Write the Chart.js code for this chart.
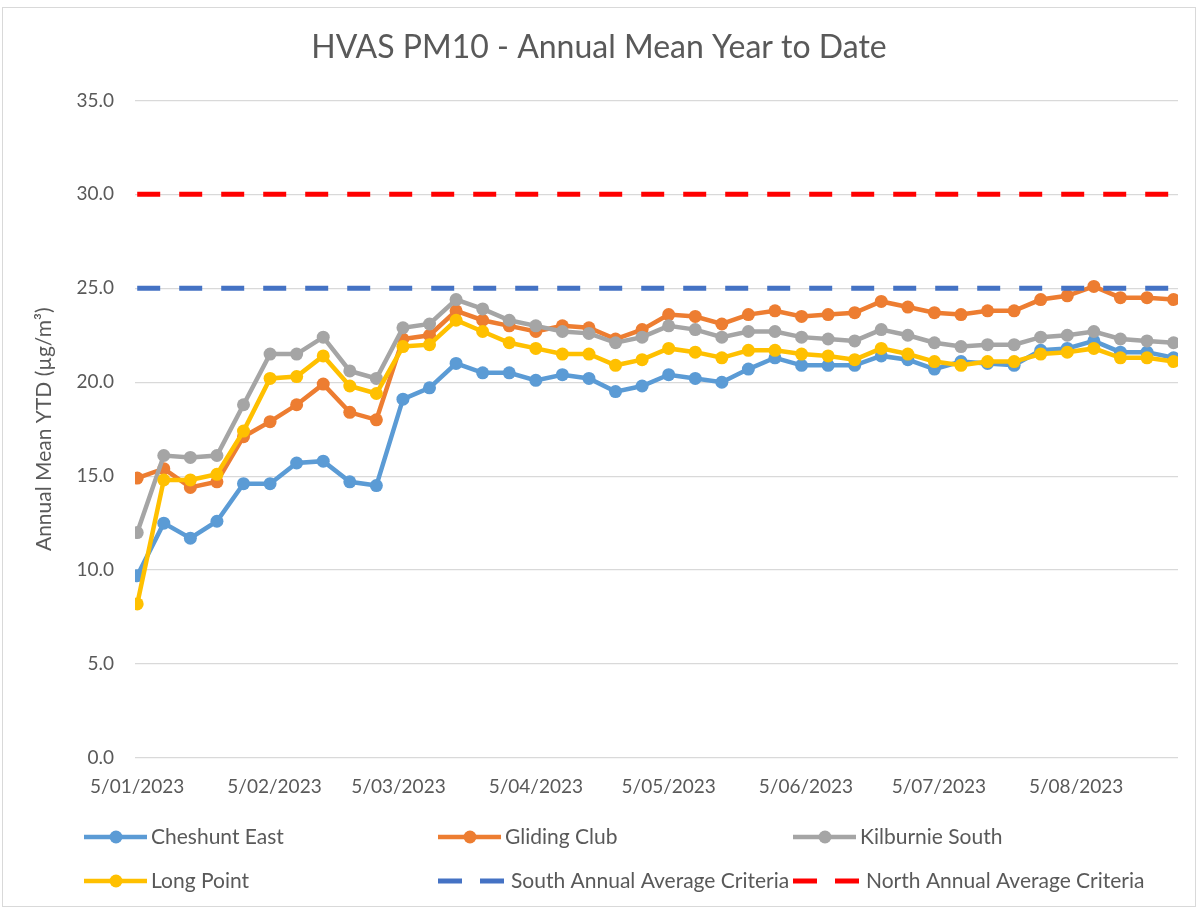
<!DOCTYPE html>
<html>
<head>
<meta charset="utf-8">
<title>HVAS PM10 - Annual Mean Year to Date</title>
<script src="https://cdn.jsdelivr.net/npm/chart.js@4.4.1/dist/chart.umd.min.js"></script>
<style>
  body { margin: 0; background: #ffffff; }
  #wrap { position: relative; width: 1198px; height: 909px; }
  #frame { position: absolute; left: 2px; top: 7px; width: 1192px; height: 898px; border: 1px solid #d9d9d9; pointer-events: none; }
</style>
</head>
<body>
<div id="wrap">
  <canvas id="annualMeanChart"></canvas>
  <div id="frame"></div>
</div>
<script>
// sample days counted from 5/01/2023 (1-in-6 day HVAS run)
const sampleDays = [0, 6, 12, 18, 24, 30, 36, 42, 48, 54, 60, 66, 72, 78, 84, 90, 96, 102, 108, 114,
  120, 126, 132, 138, 144, 150, 156, 162, 168, 174, 180, 186, 192, 198, 204, 210, 216, 222, 228, 234];

// x axis ticks (day offset and label)
const tickDays = [0, 31, 59, 90, 120, 151, 181, 212];
const tickLabels = ["5/01/2023", "5/02/2023", "5/03/2023", "5/04/2023", "5/05/2023", "5/06/2023", "5/07/2023", "5/08/2023"];

const cheshuntEast = [9.7, 12.5, 11.7, 12.6, 14.6, 14.6, 15.7, 15.8, 14.7, 14.5, 19.1, 19.7, 21.0, 20.5, 20.5, 20.1, 20.4, 20.2, 19.5, 19.8,
  20.4, 20.2, 20.0, 20.7, 21.3, 20.9, 20.9, 20.9, 21.4, 21.2, 20.7, 21.1, 21.0, 20.9, 21.7, 21.8, 22.2, 21.6, 21.6, 21.3];
const glidingClub = [14.9, 15.4, 14.4, 14.7, 17.1, 17.9, 18.8, 19.9, 18.4, 18.0, 22.3, 22.5, 23.8, 23.3, 23.0, 22.7, 23.0, 22.9, 22.3, 22.8,
  23.6, 23.5, 23.1, 23.6, 23.8, 23.5, 23.6, 23.7, 24.3, 24.0, 23.7, 23.6, 23.8, 23.8, 24.4, 24.6, 25.1, 24.5, 24.5, 24.4];
const kilburnieSouth = [12.0, 16.1, 16.0, 16.1, 18.8, 21.5, 21.5, 22.4, 20.6, 20.2, 22.9, 23.1, 24.4, 23.9, 23.3, 23.0, 22.7, 22.6, 22.1, 22.4,
  23.0, 22.8, 22.4, 22.7, 22.7, 22.4, 22.3, 22.2, 22.8, 22.5, 22.1, 21.9, 22.0, 22.0, 22.4, 22.5, 22.7, 22.3, 22.2, 22.1];
const longPoint = [8.2, 14.8, 14.8, 15.1, 17.4, 20.2, 20.3, 21.4, 19.8, 19.4, 21.9, 22.0, 23.3, 22.7, 22.1, 21.8, 21.5, 21.5, 20.9, 21.2,
  21.8, 21.6, 21.3, 21.7, 21.7, 21.5, 21.4, 21.2, 21.8, 21.5, 21.1, 20.9, 21.1, 21.1, 21.5, 21.6, 21.8, 21.3, 21.3, 21.1];

const southCriteria = 25;
const northCriteria = 30;

const textColor = "#595959";
const fontFamily = "Lato, 'Open Sans', sans-serif";

function toPoints(values) {
  return values.map(function(v, i) { return { x: sampleDays[i], y: v }; });
}

function criteriaLine(value) {
  return [{ x: sampleDays[0], y: value }, { x: sampleDays[sampleDays.length - 1], y: value }];
}

function siteDataset(label, values, color, order) {
  return {
    label: label,
    data: toPoints(values),
    borderColor: color,
    backgroundColor: color,
    pointBackgroundColor: color,
    pointBorderColor: color,
    borderWidth: 4.5,
    pointRadius: 6.5,
    pointBorderWidth: 0,
    order: order
  };
}

function dashedDataset(label, value, color, order) {
  return {
    label: label,
    data: criteriaLine(value),
    borderColor: color,
    backgroundColor: color,
    borderWidth: 5,
    borderDash: [23, 19],
    pointRadius: 0,
    order: order
  };
}

// legend laid out in a 3 column grid like the spreadsheet
const gridLegend = {
  id: "gridLegend",
  afterDraw: function(chart) {
    let ctx = chart.ctx;
    let cols = [84, 438, 793];
    let rows = [837, 881];
    ctx.save();
    ctx.font = "21px " + fontFamily;
    ctx.textBaseline = "middle";
    chart.data.datasets.forEach(function(ds, i) {
      let x0 = cols[i % 3];
      let y = rows[Math.floor(i / 3)];
      let dashed = !!ds.borderDash;
      ctx.strokeStyle = ds.borderColor;
      ctx.lineWidth = ds.borderWidth;
      ctx.setLineDash(dashed ? [24, 18] : []);
      ctx.beginPath();
      ctx.moveTo(x0, y);
      ctx.lineTo(x0 + (dashed ? 66 : 63), y);
      ctx.stroke();
      ctx.setLineDash([]);
      if (ds.pointRadius > 0) {
        ctx.fillStyle = ds.borderColor;
        ctx.beginPath();
        ctx.arc(x0 + 32, y, ds.pointRadius, 0, Math.PI * 2);
        ctx.fill();
      }
      ctx.fillStyle = textColor;
      ctx.fillText(ds.label, x0 + (dashed ? 73 : 67), y);
    });
    ctx.restore();
  }
};

let ctx = document.getElementById("annualMeanChart").getContext("2d");

let chartData = {
  type: "line",
  data: {
    datasets: [
      siteDataset("Cheshunt East", cheshuntEast, "#5b9bd5", 6),
      siteDataset("Gliding Club", glidingClub, "#ed7d31", 5),
      siteDataset("Kilburnie South", kilburnieSouth, "#a5a5a5", 4),
      siteDataset("Long Point", longPoint, "#ffc000", 3),
      dashedDataset("South Annual Average Criteria", southCriteria, "#4472c4", 2),
      dashedDataset("North Annual Average Criteria", northCriteria, "#ff0000", 1)
    ]
  },
  options: {
    responsive: true,
    maintainAspectRatio: false,
    animation: false,
    layout: { padding: { left: 20, right: 20, top: 10, bottom: 101 } },
    plugins: {
      legend: { display: false },
      tooltip: { enabled: false },
      title: {
        display: true,
        text: "HVAS PM10 - Annual Mean Year to Date",
        color: textColor,
        font: { family: fontFamily, size: 32, weight: "normal", lineHeight: 1.2 },
        padding: { top: 18, bottom: 34 }
      }
    },
    scales: {
      x: {
        type: "linear",
        min: -0.5,
        max: 235,
        grid: { display: false },
        border: { display: false },
        afterBuildTicks: function(axis) {
          axis.ticks = tickDays.map(function(d) { return { value: d }; });
        },
        afterFit: function(scale) { scale.height = 50; },
        ticks: {
          autoSkip: false,
          maxRotation: 0,
          padding: 9,
          color: textColor,
          font: { family: fontFamily, size: 19 },
          callback: function(value) { return tickLabels[tickDays.indexOf(value)]; }
        }
      },
      y: {
        min: 0,
        max: 35,
        grid: { color: "#d9d9d9", lineWidth: 1.3, drawTicks: false },
        border: { display: false },
        afterFit: function(scale) { scale.width = 115; },
        ticks: {
          stepSize: 5,
          padding: 21,
          color: textColor,
          font: { family: fontFamily, size: 19 },
          callback: function(value) { return value.toFixed(1); }
        },
        title: {
          display: true,
          text: "Annual Mean YTD (µg/m³)",
          color: textColor,
          font: { family: fontFamily, size: 21 },
          padding: { top: 12, bottom: 0 }
        }
      }
    }
  },
  plugins: [gridLegend]
};

let annualMeanChart = new Chart(ctx, chartData);
</script>
</body>
</html>
